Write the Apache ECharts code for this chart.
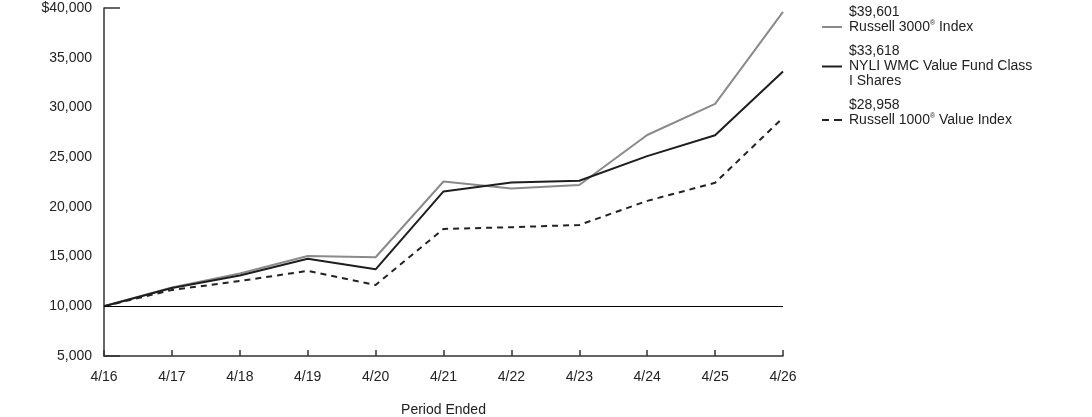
<!DOCTYPE html>
<html>
<head>
<meta charset="utf-8">
<script src="https://cdn.jsdelivr.net/npm/echarts@6/dist/echarts.min.js"></script>
<style>
  body { margin: 0; background: #fff; }
  #main { width: 1092px; height: 417px; }
</style>
</head>
<body>
<div id="main"></div>
<script>
// 数据
var periods = ['4/16', '4/17', '4/18', '4/19', '4/20', '4/21', '4/22', '4/23', '4/24', '4/25', '4/26'];
var russell3000 = [10000, 11900, 13300, 15060, 14930, 22550, 21850, 22200, 27230, 30350, 39601];
var nyliFund = [10000, 11840, 13100, 14780, 13720, 21550, 22450, 22620, 25100, 27200, 33618];
var russell1000v = [10000, 11640, 12540, 13560, 12140, 17780, 17950, 18180, 20600, 22420, 28958];
var yTicks = [5000, 10000, 15000, 20000, 25000, 30000, 35000, 40000];

var myChart = echarts.init(document.getElementById('main'));

function fmt(v) {
  return v.toString().replace(/\B(?=(\d{3})+(?!\d))/g, ',');
}

var legendText = {
  'Russell 3000 Index': '$39,601\nRussell 3000{sup|®} Index',
  'NYLI WMC Value Fund Class I Shares': '$33,618\nNYLI WMC Value Fund Class\nI Shares',
  'Russell 1000 Value Index': '$28,958\nRussell 1000{sup|®} Value Index'
};

// 图例图标: 线段放在下方, 让它对齐第二行文字
var iconLow = 'path://M0,0h0.05v0.05h-0.05z M0,14h20v2h-20z';
var iconMid = 'path://M0,0h0.05v0.05h-0.05z M0,7h20v2h-20z M19.95,15.95h0.05v0.05h-0.05z';
var iconDash = 'path://M0,0h0.05v0.05h-0.05z M0,14h7v2h-7z M12,14h8v2h-8z';

myChart.setOption({
  animation: false,
  textStyle: { fontFamily: 'Liberation Sans, Arial, sans-serif' },
  grid: { left: 104, right: 309, top: 8, bottom: 61, outerBoundsMode: 'none', containLabel: false },
  legend: {
    orient: 'vertical',
    left: 817,
    top: 0,
    itemWidth: 20,
    itemHeight: 16,
    itemGap: 9,
    textStyle: {
      fontSize: 14,
      color: '#222',
      lineHeight: 15,
      padding: [0, 0, 0, 2],
      rich: { sup: { fontSize: 7, verticalAlign: 'top', lineHeight: 15, padding: [0, 0, 5, 0] } }
    },
    formatter: function (name) { return legendText[name]; },
    data: [
      { name: 'Russell 3000 Index', icon: iconLow },
      { name: 'NYLI WMC Value Fund Class I Shares', icon: iconMid },
      { name: 'Russell 1000 Value Index', icon: iconDash }
    ]
  },
  xAxis: {
    type: 'category',
    data: periods,
    boundaryGap: false,
    name: 'Period Ended',
    nameLocation: 'middle',
    nameGap: 47,
    nameTextStyle: { fontSize: 14, color: '#222' },
    axisLine: { lineStyle: { color: '#333', width: 1.5 } },
    axisTick: { inside: true, length: 6, lineStyle: { color: '#333', width: 1.5 } },
    axisLabel: { fontSize: 14, color: '#222', margin: 14 },
    splitLine: { show: false }
  },
  yAxis: [
    {
      type: 'value',
      min: 5000,
      max: 40000,
      interval: 5000,
      axisLine: { show: true, lineStyle: { color: '#333', width: 1.5 } },
      axisTick: { show: false },
      splitLine: { show: false },
      axisLabel: {
        fontSize: 14,
        color: '#222',
        margin: 12,
        formatter: function (v) { return (v === yTicks[yTicks.length - 1] ? '$' : '') + fmt(v); }
      }
    },
    {
      // 顶部那一小段横线
      type: 'value',
      position: 'left',
      min: 5000,
      max: 40000,
      interval: 35000,
      axisLine: { show: false },
      axisLabel: { show: false },
      splitLine: { show: false },
      axisTick: { show: true, inside: true, length: 16, lineStyle: { color: '#333', width: 1.5 } }
    }
  ],
  series: [
    {
      name: 'Russell 3000 Index',
      type: 'line',
      data: russell3000,
      symbol: 'none',
      lineStyle: { color: '#8a8a8a', width: 2 },
      itemStyle: { color: '#8a8a8a' },
      markLine: {
        silent: true,
        symbol: 'none',
        label: { show: false },
        lineStyle: { color: '#000', width: 1.2, type: 'solid' },
        data: [{ yAxis: 10000 }]
      }
    },
    {
      name: 'NYLI WMC Value Fund Class I Shares',
      type: 'line',
      data: nyliFund,
      symbol: 'none',
      lineStyle: { color: '#1e1e1e', width: 2 },
      itemStyle: { color: '#1e1e1e' }
    },
    {
      name: 'Russell 1000 Value Index',
      type: 'line',
      data: russell1000v,
      symbol: 'none',
      lineStyle: { color: '#222', width: 2, type: [6, 5] },
      itemStyle: { color: '#222' }
    }
  ]
});
</script>
</body>
</html>
